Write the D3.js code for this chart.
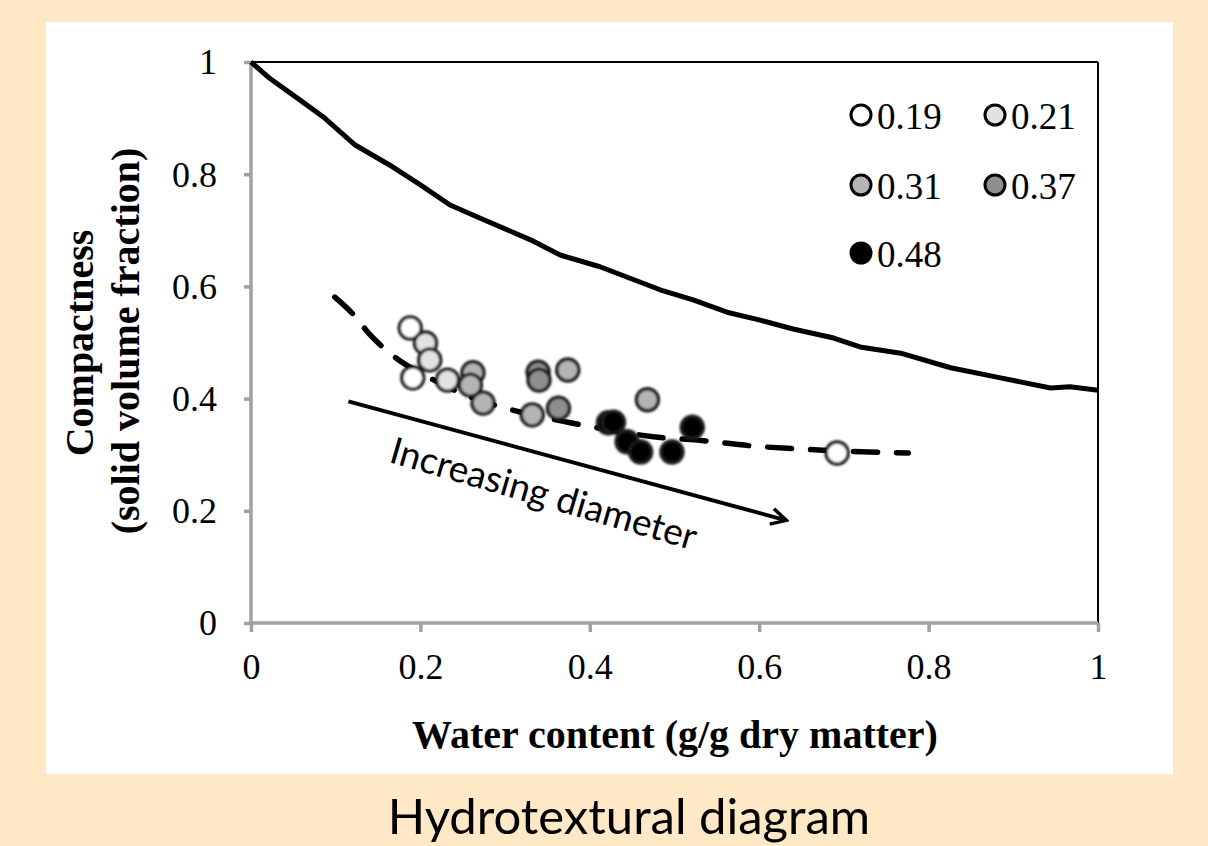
<!DOCTYPE html>
<html><head><meta charset="utf-8">
<script src="https://cdn.jsdelivr.net/npm/d3@7"></script>
<style>
html,body{margin:0;padding:0;background:#FEE8C6;}
svg{display:block;}
</style></head>
<body>
<svg id="chart" width="1208" height="846"></svg>
<script>
// ---- data ----
const xTicks = [0, 0.2, 0.4, 0.6, 0.8, 1];
const yTicks = [0, 0.2, 0.4, 0.6, 0.8, 1];
const saturationX = [0, 0.022, 0.058, 0.087, 0.123, 0.164, 0.2, 0.235, 0.27, 0.33, 0.365, 0.412, 0.483, 0.522, 0.562, 0.601, 0.64, 0.688, 0.719, 0.767, 0.826, 0.885, 0.944, 0.967, 1.0];
const saturationY = [1, 0.971, 0.932, 0.9, 0.852, 0.816, 0.781, 0.745, 0.722, 0.683, 0.656, 0.635, 0.594, 0.576, 0.554, 0.54, 0.524, 0.508, 0.492, 0.481, 0.455, 0.437, 0.419, 0.421, 0.415];
const trendX = [0.099, 0.119, 0.141, 0.168, 0.211, 0.259, 0.318, 0.377, 0.424, 0.475, 0.527, 0.589, 0.676, 0.776];
const trendY = [0.581, 0.553, 0.513, 0.476, 0.437, 0.403, 0.376, 0.357, 0.344, 0.332, 0.326, 0.316, 0.308, 0.303];
const seriesNames = ["0.19", "0.21", "0.31", "0.37", "0.48"];
const seriesFill = ["#ffffff", "#e2e2e2", "#b4b4b4", "#8f8f8f", "#000000"];
const pointsX = {
  "0.19": [0.188, 0.191, 0.692],
  "0.21": [0.206, 0.211, 0.232],
  "0.31": [0.262, 0.259, 0.274, 0.332, 0.374, 0.468],
  "0.37": [0.339, 0.340, 0.363],
  "0.48": [0.422, 0.428, 0.444, 0.460, 0.497, 0.521]
};
const pointsY = {
  "0.19": [0.526, 0.437, 0.303],
  "0.21": [0.499, 0.469, 0.433],
  "0.31": [0.446, 0.424, 0.392, 0.371, 0.451, 0.398],
  "0.37": [0.447, 0.433, 0.383],
  "0.48": [0.357, 0.358, 0.323, 0.305, 0.305, 0.349]
};
const arrowFrom = [0.115, 0.395];
const arrowTo = [0.632, 0.183];

// ---- layout ----
const svg = d3.select("#chart");
const L = 251, R = 1098, T = 62, B = 623;
const x = d3.scaleLinear().domain([0, 1]).range([L, R]);
const y = d3.scaleLinear().domain([0, 1]).range([B, T]);

svg.append("rect").attr("x", 0).attr("y", 0).attr("width", 1208).attr("height", 846).attr("fill", "#FEE8C6");
svg.append("rect").attr("x", 46).attr("y", 22).attr("width", 1127).attr("height", 752).attr("fill", "#ffffff");

const defs = svg.append("defs");
defs.append("filter").attr("id", "soft").attr("x", "-50%").attr("y", "-50%").attr("width", "200%").attr("height", "200%")
  .append("feGaussianBlur").attr("stdDeviation", 1.3);
defs.append("marker").attr("id", "arr").attr("viewBox", "0 0 20 20").attr("refX", 17).attr("refY", 10)
  .attr("markerWidth", 20).attr("markerHeight", 20).attr("markerUnits", "userSpaceOnUse").attr("orient", "auto")
  .append("path").attr("d", "M2,2 L17,10 L2,18").attr("fill", "none").attr("stroke", "#000").attr("stroke-width", 3.5);

// frame top and right
svg.append("line").attr("x1", L).attr("x2", R).attr("y1", T).attr("y2", T).attr("stroke", "#000").attr("stroke-width", 2);
svg.append("line").attr("x1", R).attr("x2", R).attr("y1", T).attr("y2", B).attr("stroke", "#000").attr("stroke-width", 2);

// axes
const fontSerif = "'Liberation Serif','Times New Roman',serif";
const xAxis = d3.axisBottom(x).tickValues(xTicks).tickFormat(d3.format("~g")).tickSize(9).tickPadding(21);
const gx = svg.append("g").attr("transform", `translate(0,${B})`).call(xAxis);
const yAxis = d3.axisLeft(y).tickValues(yTicks).tickFormat(d3.format("~g")).tickSize(7).tickPadding(27);
const gy = svg.append("g").attr("transform", `translate(${L},0)`).call(yAxis);
[gx, gy].forEach(g => {
  g.select(".domain").attr("stroke", "#a0a0a0").attr("stroke-width", 3.5);
  g.selectAll(".tick line").attr("stroke", "#a0a0a0").attr("stroke-width", 3.5);
  g.selectAll(".tick text").attr("font-family", fontSerif).attr("font-size", 36).attr("fill", "#000");
});
gx.select(".domain").attr("d", `M${L},0H${R}`);
gy.select(".domain").attr("d", `M0,${B}V${T}`);
gy.selectAll(".tick text").attr("dy", "0.33em");

// saturation line
const sat = saturationX.map((v, i) => [v, saturationY[i]]);
const line = d3.line().x(d => x(d[0])).y(d => y(d[1]));
svg.append("path").attr("d", line(sat)).attr("fill", "none").attr("stroke", "#000").attr("stroke-width", 5).attr("stroke-linejoin", "round");

// trend dashed line
const trend = trendX.map((v, i) => [v, trendY[i]]);
svg.append("path").attr("d", d3.line().curve(d3.curveMonotoneX).x(d => x(d[0])).y(d => y(d[1]))(trend))
  .attr("fill", "none").attr("stroke", "#000").attr("stroke-width", 5.5).attr("stroke-dasharray", "24,19").attr("stroke-linecap", "round");

// points
const gp = svg.append("g").attr("filter", "url(#soft)");
seriesNames.forEach((s, si) => {
  const pts = pointsX[s].map((v, i) => [v, pointsY[s][i]]);
  gp.selectAll(null).data(pts).enter().append("circle")
    .attr("cx", d => x(d[0])).attr("cy", d => y(d[1])).attr("r", 11)
    .attr("fill", seriesFill[si]).attr("stroke", "#1a1a1a").attr("stroke-width", 3.4);
});

// arrow
svg.append("line").attr("x1", x(arrowFrom[0])).attr("y1", y(arrowFrom[1])).attr("x2", x(arrowTo[0])).attr("y2", y(arrowTo[1]))
  .attr("stroke", "#000").attr("stroke-width", 4).attr("marker-end", "url(#arr)");
const ang = Math.atan2(y(arrowTo[1]) - y(arrowFrom[1]), x(arrowTo[0]) - x(arrowFrom[0])) * 180 / Math.PI;
svg.append("text").attr("transform", `translate(540,506) rotate(${ang + 1})`).attr("text-anchor", "middle")
  .attr("font-family", "Lato, 'Open Sans', sans-serif").attr("font-size", 37).attr("fill", "#000").text("Increasing diameter");

// legend
const legPos = [[861, 115], [995, 115], [861, 185], [995, 185], [861, 253]];
const lg = svg.append("g");
seriesNames.forEach((s, i) => {
  const [cx, cy] = legPos[i];
  lg.append("circle").attr("cx", cx).attr("cy", cy).attr("r", 10).attr("fill", seriesFill[i]).attr("stroke", "#000").attr("stroke-width", 3);
  lg.append("text").attr("x", cx + 16).attr("y", cy + 14).attr("font-family", fontSerif).attr("font-size", 37).attr("fill", "#000").text(s);
});

// axis titles
svg.append("text").attr("x", 675).attr("y", 748).attr("text-anchor", "middle").attr("font-family", fontSerif)
  .attr("font-weight", "bold").attr("font-size", 40).text("Water content (g/g dry matter)");
svg.append("text").attr("transform", "translate(93,343) rotate(-90)").attr("text-anchor", "middle").attr("font-family", fontSerif)
  .attr("font-weight", "bold").attr("font-size", 40).text("Compactness");
svg.append("text").attr("transform", "translate(139,341) rotate(-90)").attr("text-anchor", "middle").attr("font-family", fontSerif)
  .attr("font-weight", "bold").attr("font-size", 40).text("(solid volume fraction)");

// caption
svg.append("text").attr("x", 629).attr("y", 834).attr("text-anchor", "middle").attr("font-family", "Lato, 'Open Sans', sans-serif")
  .attr("font-size", 49).attr("fill", "#000").text("Hydrotextural diagram");
</script>
</body></html>
